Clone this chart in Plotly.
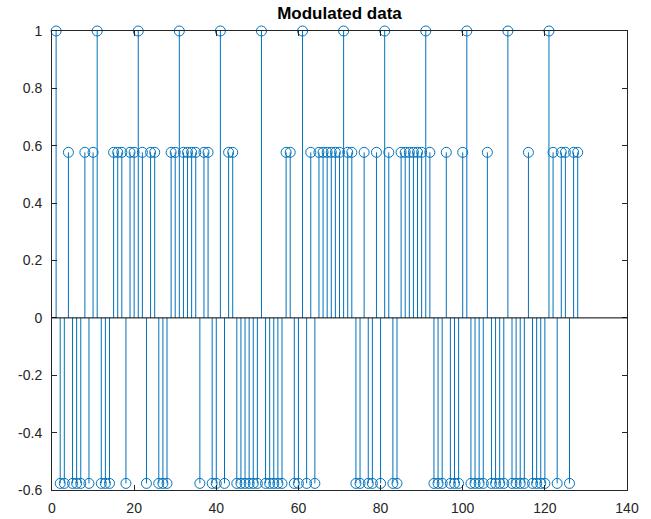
import plotly.graph_objects as go

# sample index
x_idx = list(range(1, 129))
# modulated values (1 = pilot, +/-0.577 = data)
values = [
    1, -0.577, -0.577, 0.577, -0.577, -0.577, -0.577, 0.577, -0.577, 0.577,
    1, -0.577, -0.577, -0.577, 0.577, 0.577, 0.577, -0.577, 0.577, 0.577,
    1, 0.577, -0.577, 0.577, 0.577, -0.577, -0.577, -0.577, 0.577, 0.577,
    1, 0.577, 0.577, 0.577, 0.577, -0.577, 0.577, 0.577, -0.577, -0.577,
    1, -0.577, 0.577, 0.577, -0.577, -0.577, -0.577, -0.577, -0.577, -0.577,
    1, -0.577, -0.577, -0.577, -0.577, -0.577, 0.577, 0.577, -0.577, -0.577,
    1, -0.577, 0.577, -0.577, 0.577, 0.577, 0.577, 0.577, 0.577, 0.577,
    1, 0.577, 0.577, -0.577, -0.577, 0.577, -0.577, -0.577, 0.577, -0.577,
    1, 0.577, -0.577, -0.577, 0.577, 0.577, 0.577, 0.577, 0.577, 0.577,
    1, 0.577, -0.577, -0.577, -0.577, 0.577, -0.577, -0.577, -0.577, 0.577,
    1, -0.577, -0.577, -0.577, -0.577, 0.577, -0.577, -0.577, -0.577, -0.577,
    1, -0.577, -0.577, -0.577, -0.577, 0.577, -0.577, -0.577, -0.577, -0.577,
    1, 0.577, -0.577, 0.577, 0.577, -0.577, 0.577, 0.577,
]
x_ticks = [0, 20, 40, 60, 80, 100, 120, 140]
y_ticks = [-0.6, -0.4, -0.2, 0, 0.2, 0.4, 0.6, 0.8, 1]
y_tick_text = ["-0.6", "-0.4", "-0.2", "0", "0.2", "0.4", "0.6", "0.8", "1"]

color = "#0072BD"

stem_x, stem_y = [], []
for xv, yv in zip(x_idx, values):
    stem_x += [xv, xv, None]
    stem_y += [0, yv, None]

fig = go.Figure()
fig.add_trace(go.Scatter(x=stem_x, y=stem_y, mode="lines",
                         line=dict(color=color, width=1), hoverinfo="skip",
                         showlegend=False))
fig.add_trace(go.Scatter(x=x_idx, y=values, mode="markers",
                         marker=dict(symbol="circle-open", size=10,
                                     color=color, line=dict(width=1, color=color)),
                         cliponaxis=False, showlegend=False))
fig.add_shape(type="line", xref="paper", yref="y", x0=0, x1=1, y0=0, y1=0,
              line=dict(color="black", width=1))

axis_common = dict(showgrid=False, zeroline=False, showline=True,
                   linecolor="#262626", linewidth=1, mirror="allticks",
                   ticks="inside", ticklen=5, tickcolor="#262626", automargin=False,
                   tickfont=dict(family="Liberation Sans, Arial", size=14, color="#262626"))

fig.update_xaxes(range=[0, 140], tickvals=x_ticks, ticklabelstandoff=5, **axis_common)
fig.update_yaxes(range=[-0.6, 1], tickvals=y_ticks, ticktext=y_tick_text,
                 ticklabelstandoff=6, **axis_common)

fig.update_layout(
    width=651, height=519,
    margin=dict(l=52, r=24, t=31, b=29, autoexpand=False),
    plot_bgcolor="white", paper_bgcolor="white",
    title=dict(text="<b>Modulated data</b>", x=0.5, xref="paper", xanchor="center",
               y=1, yref="paper", yanchor="bottom", pad=dict(b=12),
               font=dict(family="Liberation Sans, Arial", size=17, color="black")),
)

fig.write_html("out.html")
